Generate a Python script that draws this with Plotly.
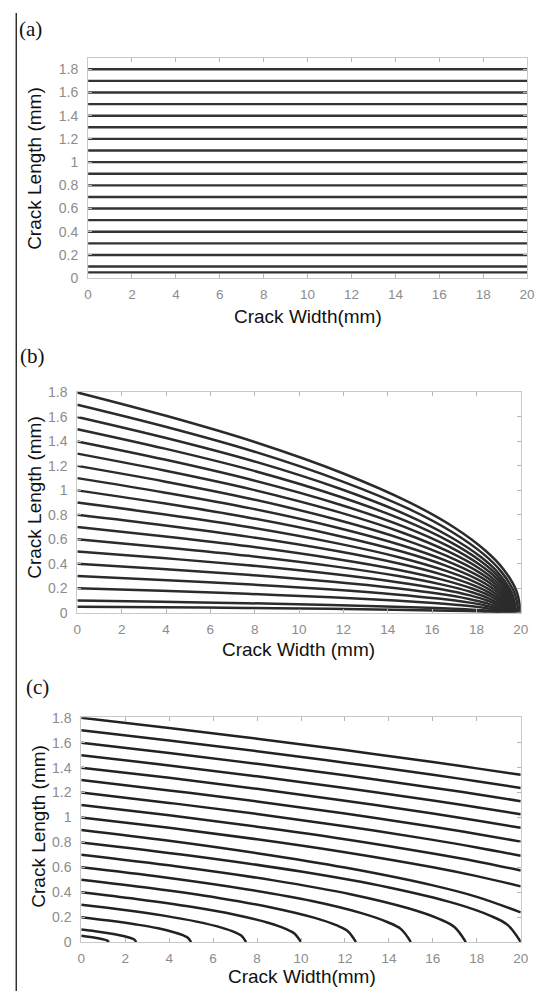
import plotly.graph_objects as go

# Initial crack lengths (mm) shared by all three panels
start_lengths = [0.05, 0.1, 0.2, 0.3, 0.4, 0.5, 0.6, 0.7, 0.8, 0.9,
                 1.0, 1.1, 1.2, 1.3, 1.4, 1.5, 1.6, 1.7, 1.8]

# (a) constant-length cracks across the full width
a_widths = [0, 20]

# (b) crack paths: width (mm) and length (mm) along each path
b_widths = [
    [0, 3.8, 7.6, 11.4, 14.25, 16.15, 17.48, 18.24, 18.81, 19.0],
    [0, 3.81, 7.62, 11.43, 14.29, 16.19, 17.53, 18.29, 18.86, 19.05],
    [0, 3.82, 7.64, 11.46, 14.33, 16.24, 17.57, 18.34, 18.91, 19.1],
    [0, 3.83, 7.66, 11.49, 14.36, 16.28, 17.62, 18.38, 18.96, 19.15],
    [0, 3.84, 7.68, 11.52, 14.4, 16.32, 17.66, 18.43, 19.01, 19.2],
    [0, 3.85, 7.7, 11.55, 14.44, 16.36, 17.71, 18.48, 19.06, 19.25],
    [0, 3.86, 7.72, 11.58, 14.48, 16.41, 17.76, 18.53, 19.11, 19.3],
    [0, 3.87, 7.74, 11.61, 14.51, 16.45, 17.8, 18.58, 19.16, 19.35],
    [0, 3.88, 7.76, 11.64, 14.55, 16.49, 17.85, 18.62, 19.21, 19.4],
    [0, 3.89, 7.78, 11.67, 14.59, 16.53, 17.89, 18.67, 19.26, 19.45],
    [0, 3.9, 7.8, 11.7, 14.63, 16.58, 17.94, 18.72, 19.31, 19.5],
    [0, 3.91, 7.82, 11.73, 14.66, 16.62, 17.99, 18.77, 19.35, 19.55],
    [0, 3.92, 7.84, 11.76, 14.7, 16.66, 18.03, 18.82, 19.4, 19.6],
    [0, 3.93, 7.86, 11.79, 14.74, 16.7, 18.08, 18.86, 19.45, 19.65],
    [0, 3.94, 7.88, 11.82, 14.78, 16.75, 18.12, 18.91, 19.5, 19.7],
    [0, 3.95, 7.9, 11.85, 14.81, 16.79, 18.17, 18.96, 19.55, 19.75],
    [0, 3.96, 7.92, 11.88, 14.85, 16.83, 18.22, 19.01, 19.6, 19.8],
    [0, 3.98, 7.96, 11.94, 14.93, 16.92, 18.31, 19.1, 19.7, 19.9],
    [0, 4, 8, 12, 15, 17, 18.4, 19.2, 19.8, 20],
]
b_lengths = [
    [0.05, 0.045, 0.039, 0.032, 0.025, 0.019, 0.014, 0.01, 0.005, 0],
    [0.1, 0.089, 0.078, 0.063, 0.05, 0.039, 0.028, 0.02, 0.01, 0],
    [0.2, 0.179, 0.155, 0.126, 0.1, 0.077, 0.057, 0.04, 0.02, 0],
    [0.3, 0.268, 0.233, 0.19, 0.15, 0.116, 0.085, 0.06, 0.03, 0],
    [0.4, 0.358, 0.31, 0.253, 0.2, 0.155, 0.113, 0.08, 0.04, 0],
    [0.5, 0.447, 0.388, 0.316, 0.25, 0.194, 0.142, 0.1, 0.05, 0],
    [0.6, 0.536, 0.465, 0.379, 0.3, 0.232, 0.17, 0.12, 0.06, 0],
    [0.7, 0.626, 0.543, 0.442, 0.35, 0.271, 0.198, 0.14, 0.07, 0],
    [0.8, 0.715, 0.62, 0.506, 0.4, 0.31, 0.226, 0.16, 0.08, 0],
    [0.9, 0.805, 0.698, 0.569, 0.45, 0.348, 0.255, 0.18, 0.09, 0],
    [1.0, 0.894, 0.775, 0.632, 0.5, 0.387, 0.283, 0.2, 0.1, 0],
    [1.1, 0.983, 0.853, 0.695, 0.55, 0.426, 0.311, 0.22, 0.11, 0],
    [1.2, 1.073, 0.93, 0.758, 0.6, 0.464, 0.34, 0.24, 0.12, 0],
    [1.3, 1.162, 1.008, 0.822, 0.65, 0.503, 0.368, 0.26, 0.13, 0],
    [1.4, 1.252, 1.085, 0.885, 0.7, 0.542, 0.396, 0.28, 0.14, 0],
    [1.5, 1.341, 1.163, 0.948, 0.75, 0.581, 0.425, 0.3, 0.15, 0],
    [1.6, 1.43, 1.24, 1.011, 0.8, 0.619, 0.453, 0.32, 0.16, 0],
    [1.7, 1.52, 1.318, 1.074, 0.85, 0.658, 0.481, 0.34, 0.17, 0],
    [1.8, 1.609, 1.395, 1.138, 0.9, 0.697, 0.509, 0.36, 0.18, 0],
]

# (c) crack paths: width (mm) and length (mm) along each path
c_widths = [
    [0, 0.31, 0.63, 0.88, 1.06, 1.16, 1.21, 1.25],
    [0, 0.63, 1.25, 1.75, 2.13, 2.33, 2.43, 2.5],
    [0, 1.25, 2.5, 3.5, 4.25, 4.65, 4.85, 5],
    [0, 1.88, 3.75, 5.25, 6.38, 6.98, 7.28, 7.5],
    [0, 2.5, 5, 7, 8.5, 9.3, 9.7, 10],
    [0, 3.13, 6.25, 8.75, 10.63, 11.63, 12.13, 12.5],
    [0, 3.75, 7.5, 10.5, 12.75, 13.95, 14.55, 15],
    [0, 4.38, 8.75, 12.25, 14.88, 16.28, 16.98, 17.5],
    [0, 5, 10, 14, 17, 18.6, 19.4, 20],
    [0, 4, 8, 12, 16, 18, 20],
    [0, 4, 8, 12, 16, 18, 20],
    [0, 4, 8, 12, 16, 18, 20],
    [0, 4, 8, 12, 16, 18, 20],
    [0, 4, 8, 12, 16, 18, 20],
    [0, 4, 8, 12, 16, 18, 20],
    [0, 4, 8, 12, 16, 18, 20],
    [0, 4, 8, 12, 16, 18, 20],
    [0, 4, 8, 12, 16, 18, 20],
    [0, 4, 8, 12, 16, 18, 20],
]
c_lengths = [
    [0.05, 0.043, 0.035, 0.027, 0.019, 0.013, 0.009, 0],
    [0.1, 0.087, 0.071, 0.055, 0.039, 0.027, 0.017, 0],
    [0.2, 0.173, 0.141, 0.11, 0.077, 0.053, 0.035, 0],
    [0.3, 0.26, 0.212, 0.164, 0.116, 0.08, 0.052, 0],
    [0.4, 0.346, 0.283, 0.219, 0.155, 0.106, 0.069, 0],
    [0.5, 0.433, 0.354, 0.274, 0.194, 0.133, 0.087, 0],
    [0.6, 0.52, 0.424, 0.329, 0.232, 0.159, 0.104, 0],
    [0.7, 0.606, 0.495, 0.384, 0.271, 0.186, 0.121, 0],
    [0.8, 0.693, 0.566, 0.438, 0.31, 0.212, 0.138, 0],
    [0.9, 0.813, 0.713, 0.598, 0.455, 0.363, 0.238],
    [1.0, 0.917, 0.825, 0.721, 0.6, 0.529, 0.447],
    [1.1, 1.017, 0.926, 0.826, 0.711, 0.647, 0.574],
    [1.2, 1.117, 1.028, 0.93, 0.82, 0.759, 0.693],
    [1.3, 1.217, 1.129, 1.032, 0.926, 0.868, 0.806],
    [1.4, 1.318, 1.23, 1.135, 1.032, 0.976, 0.917],
    [1.5, 1.418, 1.33, 1.237, 1.136, 1.082, 1.025],
    [1.6, 1.518, 1.431, 1.339, 1.239, 1.187, 1.131],
    [1.7, 1.618, 1.532, 1.44, 1.342, 1.291, 1.237],
    [1.8, 1.718, 1.632, 1.541, 1.445, 1.394, 1.342],
]

x_ticks = list(range(0, 21, 2))
y_ticks = [0, 0.2, 0.4, 0.6, 0.8, 1, 1.2, 1.4, 1.6, 1.8]

W, H = 540, 999
LINE = dict(color="#2b2b2b", width=2.5)


def px_x(p):
    return p / W


def px_y(p):
    return 1 - p / H


fig = go.Figure()

# Panel (a)
for y0 in start_lengths:
    fig.add_trace(go.Scatter(x=a_widths, y=[y0, y0], mode="lines",
                             line=dict(LINE, color="#333333", width=2.4),
                             xaxis="x", yaxis="y", hoverinfo="skip"))
# Panel (b)
for xs, ys in zip(b_widths, b_lengths):
    fig.add_trace(go.Scatter(x=xs, y=ys, mode="lines",
                             line=dict(LINE, shape="spline", smoothing=1.0),
                             xaxis="x2", yaxis="y2", hoverinfo="skip"))
# Panel (c)
for xs, ys in zip(c_widths, c_lengths):
    fig.add_trace(go.Scatter(x=xs, y=ys, mode="lines",
                             line=dict(LINE, color="#222222", shape="spline", smoothing=1.0),
                             xaxis="x3", yaxis="y3", hoverinfo="skip"))

x_tick_font = dict(family="Liberation Sans, Arial, sans-serif", size=13.5, color="#8c8c8c")
y_tick_font = dict(family="Liberation Sans, Arial, sans-serif", size=14, color="#8c8c8c")
common_x = dict(range=[0, 20], tickvals=x_ticks, ticks="inside", ticklen=4,
                tickcolor="#b5b5b5", showline=True, linecolor="#c9c9c9", linewidth=1,
                mirror="ticks", showgrid=False, zeroline=False, tickfont=x_tick_font,
                ticklabelstandoff=4)
common_y = dict(tickvals=y_ticks, ticks="inside", ticklen=4,
                tickcolor="#b5b5b5", showline=True, linecolor="#c9c9c9", linewidth=1,
                mirror="ticks", showgrid=False, zeroline=False, tickfont=y_tick_font,
                ticklabelstandoff=6)

# panel boxes in pixels: (left, right, top, bottom)
boxes = {
    "a": (86, 535, 51.7, 275.3),
    "b": (75, 528.5, 390.7, 615),
    "c": (79, 528.5, 721, 949.3),
}
y_tops = {"a": 1.898, "b": 1.805, "c": 1.805}

layout = dict(width=W, height=H, margin=dict(l=0, r=0, t=0, b=0),
              paper_bgcolor="white", plot_bgcolor="white", showlegend=False)
for i, key in enumerate(["a", "b", "c"]):
    l, r, t, b = boxes[key]
    sfx = "" if i == 0 else str(i + 1)
    layout["xaxis" + sfx] = dict(common_x, domain=[px_x(l), px_x(r)],
                                 anchor="y" + sfx)
    layout["yaxis" + sfx] = dict(common_y, domain=[px_y(b), px_y(t)],
                                 range=[0, y_tops[key]], anchor="x" + sfx)
fig.update_layout(**layout)

title_font = dict(family="Liberation Sans, Arial, sans-serif", size=19, color="#111111")
label_font = dict(family="Liberation Serif, Times New Roman, serif", size=21, color="#111111")

annotations = [
    # panel letters
    ("(a)", 27, 22, label_font, 0),
    ("(b)", 29, 354, label_font, 0),
    ("(c)", 34, 690, label_font, 0),
    # x axis titles
    ("Crack Width(mm)", 311, 314, title_font, 0),
    ("Crack Width (mm)", 301, 652, title_font, 0),
    ("Crack Width(mm)", 305, 984, title_font, 0),
    # y axis titles
    ("Crack Length (mm)", 31, 164, title_font, -90),
    ("Crack Length (mm)", 31, 498, title_font, -90),
    ("Crack Length (mm)", 35, 832, title_font, -90),
]
for text, x, y, font, angle in annotations:
    fig.add_annotation(text=text, x=px_x(x), y=px_y(y), xref="paper", yref="paper",
                       showarrow=False, font=font, textangle=angle,
                       xanchor="center", yanchor="middle")

# left border rule running down the page
fig.add_shape(type="line", xref="paper", yref="paper",
              x0=px_x(12.5), x1=px_x(12.5), y0=px_y(6), y1=0,
              line=dict(color="black", width=1.2))

fig.write_html("out.html")
